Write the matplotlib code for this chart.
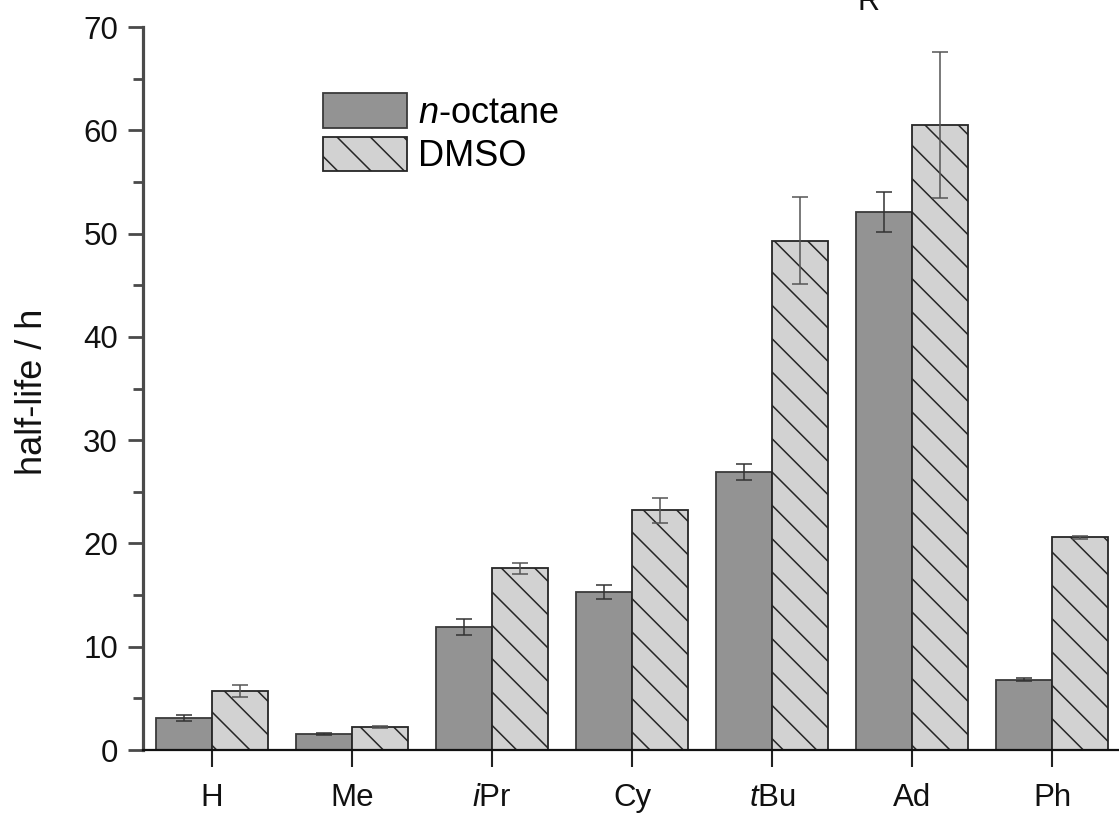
import numpy as np
import matplotlib
matplotlib.use('Agg')
import matplotlib.pyplot as plt
from matplotlib.ticker import MultipleLocator

plt.rcParams['font.family'] = ['Liberation Sans', 'DejaVu Sans']
plt.rcParams['mathtext.fontset'] = 'custom'
plt.rcParams['mathtext.rm'] = 'Liberation Sans'
plt.rcParams['mathtext.it'] = 'Liberation Sans:italic'
plt.rcParams['hatch.linewidth'] = 1.1

# data
categories = ['H', 'Me', r'$\mathit{i}$Pr', 'Cy', r'$\mathit{t}$Bu', 'Ad', 'Ph']
octane = [3.1, 1.55, 11.9, 15.3, 26.9, 52.1, 6.8]
octane_err = [0.25, 0.1, 0.75, 0.7, 0.8, 1.9, 0.15]
dmso = [5.7, 2.2, 17.6, 23.2, 49.3, 60.5, 20.6]
dmso_err = [0.6, 0.1, 0.55, 1.2, 4.2, 7.1, 0.15]

fig = plt.figure(figsize=(11.19, 8.15), dpi=100)
ax = fig.add_axes([143/1119, 65/815, 976/1119, 723/815])

x = np.arange(len(categories))
w = 0.4
ax.bar(x - w/2, octane, w, color='#939393', edgecolor='#3a3a3a', linewidth=1.3,
       label=r'$\mathit{n}$-octane', zorder=2)
ax.bar(x + w/2, dmso, w, color='#d2d2d2', edgecolor='#262626', linewidth=1.3,
       hatch='\\', label='DMSO', zorder=2)
ax.errorbar(x - w/2, octane, yerr=octane_err, fmt='none', ecolor='#333333',
            elinewidth=1.1, capsize=6, capthick=1.1, zorder=3)
ax.errorbar(x + w/2, dmso, yerr=dmso_err, fmt='none', ecolor='#555555',
            elinewidth=1.1, capsize=6, capthick=1.1, zorder=3)

ax.set_xlim(-0.493, 6.479)
ax.set_ylim(0, 70)
ax.set_xticks(x)
ax.set_xticklabels(categories)
ax.yaxis.set_major_locator(MultipleLocator(10))
ax.yaxis.set_minor_locator(MultipleLocator(5))

for s in ['top', 'right']:
    ax.spines[s].set_visible(False)
ax.spines['left'].set_linewidth(2.3)
ax.spines['left'].set_color('#4a4a4a')
ax.spines['bottom'].set_linewidth(1.6)
ax.spines['bottom'].set_color('#111111')

ax.tick_params(axis='y', which='major', direction='out', length=11, width=2.0,
               color='#4a4a4a', labelsize=22.5, pad=7, labelcolor='#111111')
ax.tick_params(axis='y', which='minor', direction='out', length=7, width=2.0,
               color='#4a4a4a')
ax.tick_params(axis='x', which='major', direction='out', length=12, width=1.5,
               color='#222222', labelsize=22.5, pad=12, labelcolor='#111111')

fig.text(33/1119, 1 - 392/815, 'half-life / h', rotation=90, ha='center',
         va='center', fontsize=26, color='#111111')

ax.legend(loc='upper left', bbox_to_anchor=(0.1844, 0.9087), frameon=False,
          fontsize=26, borderpad=0, borderaxespad=0, handlelength=2.33,
          handleheight=1.1, labelspacing=0.17, handletextpad=0.3)

# partial label cut at the top edge of the original picture
fig.text(857/1119, 1 - 10/815, 'R', ha='left', va='baseline', fontsize=22,
         color='#111111')

fig.savefig('out.png', dpi=100)
